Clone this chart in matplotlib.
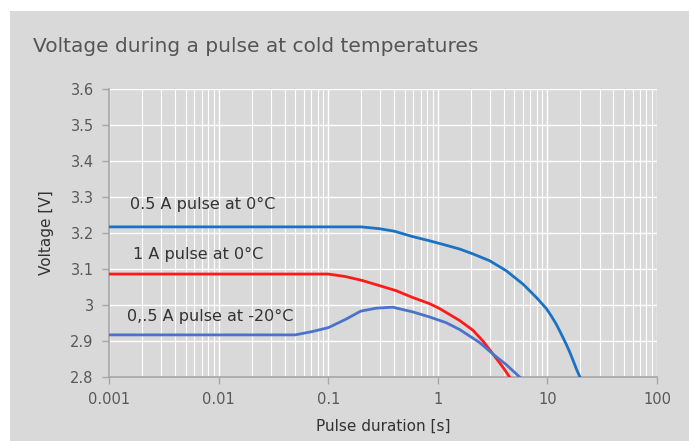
import matplotlib
matplotlib.use("Agg")
import matplotlib.pyplot as plt
from matplotlib.patches import Rectangle
from matplotlib.ticker import LogLocator, FixedLocator, NullFormatter, FixedFormatter

plt.rcParams['font.family'] = ['DejaVu Sans']

# Data
t_05_0 = [0.001, 0.2, 0.293, 0.4, 0.59, 0.85, 1.19, 1.6, 2.09, 2.97, 4.22, 5.99, 7.93, 9.79, 10.88, 12.08, 13.4, 14.9, 16.0, 17.2, 18.4, 19.8]
v_05_0 = [3.217, 3.217, 3.212, 3.205, 3.190, 3.178, 3.166, 3.155, 3.142, 3.123, 3.095, 3.058, 3.021, 2.990, 2.969, 2.946, 2.919, 2.890, 2.869, 2.845, 2.822, 2.800]

t_1_0 = [0.001, 0.1, 0.144, 0.205, 0.292, 0.415, 0.588, 0.837, 1.04, 1.58, 2.09, 2.58, 3.18, 3.93, 4.52]
v_1_0 = [3.086, 3.086, 3.079, 3.068, 3.054, 3.040, 3.021, 3.004, 2.990, 2.957, 2.930, 2.900, 2.864, 2.827, 2.800]

t_05_m20 = [0.001, 0.05, 0.071, 0.1, 0.144, 0.198, 0.272, 0.386, 0.588, 0.837, 1.19, 1.58, 2.4, 3.18, 4.22, 5.58]
v_05_m20 = [2.917, 2.917, 2.926, 2.937, 2.960, 2.983, 2.991, 2.994, 2.981, 2.967, 2.951, 2.932, 2.896, 2.864, 2.834, 2.800]

x_ticks = [0.001, 0.01, 0.1, 1, 10, 100]
x_tick_labels = ['0.001', '0.01', '0.1', '1', '10', '100']
y_ticks = [2.8, 2.9, 3.0, 3.1, 3.2, 3.3, 3.4, 3.5, 3.6]
y_tick_labels = ['2.8', '2.9', '3', '3.1', '3.2', '3.3', '3.4', '3.5', '3.6']

series_labels = ['0.5 A pulse at 0°C', '1 A pulse at 0°C', '0,.5 A pulse at -20°C']

bg = '#d9d9d9'
txt = '#595959'
spine_c = '#a6a6a6'

fig = plt.figure(figsize=(6.89, 4.41), dpi=100, facecolor='white')
fig.patches.append(Rectangle((10/689, 0), 1, 1 - 11/441, transform=fig.transFigure,
                             facecolor=bg, edgecolor='none', zorder=-10))

ax = fig.add_axes([109/689, 1 - 377/441, (657 - 109)/689, (377 - 89)/441])
ax.set_zorder(1)
ax.set_facecolor(bg)
ax.set_xscale('log')
ax.set_xlim(0.001, 100)
ax.set_ylim(2.8, 3.6)

ax.xaxis.set_major_locator(FixedLocator(x_ticks))
ax.xaxis.set_major_formatter(FixedFormatter(x_tick_labels))
ax.xaxis.set_minor_locator(LogLocator(base=10, subs=range(2, 10), numticks=20))
ax.xaxis.set_minor_formatter(NullFormatter())
ax.yaxis.set_major_locator(FixedLocator(y_ticks))
ax.yaxis.set_major_formatter(FixedFormatter(y_tick_labels))

ax.grid(True, which='major', color='white', linewidth=1.0)
ax.grid(True, which='minor', axis='x', color='white', linewidth=0.8)
ax.set_axisbelow(True)

for s in ['top', 'right']:
    ax.spines[s].set_visible(False)
for s in ['left', 'bottom']:
    ax.spines[s].set_color(spine_c)
    ax.spines[s].set_linewidth(1.2)

ax.tick_params(axis='both', which='major', direction='out', length=5, width=1,
               color=spine_c, labelcolor=txt, labelsize=10.5, pad=6)
ax.tick_params(axis='x', which='minor', length=0)

ax.plot(t_05_0, v_05_0, color='#1a72c4', linewidth=2, zorder=3)
ax.plot(t_1_0, v_1_0, color='#ff1a1a', linewidth=2, zorder=3)
ax.plot(t_05_m20, v_05_m20, color='#4a73c9', linewidth=2, zorder=4)

ax.text(0.00155, 3.280, series_labels[0], color='#333333', fontsize=11.5, va='center', ha='left')
ax.text(0.00165, 3.139, series_labels[1], color='#333333', fontsize=11.5, va='center', ha='left')
ax.text(0.00145, 2.969, series_labels[2], color='#333333', fontsize=11.5, va='center', ha='left')

ax.set_xlabel('Pulse duration [s]', color='#333333', fontsize=11, labelpad=8)
ax.set_ylabel('Voltage [V]', color='#333333', fontsize=11, labelpad=12)

fig.text(33/689, 1 - 47/441, 'Voltage during a pulse at cold temperatures',
         color='#555555', fontsize=14.5, va='center', ha='left')

fig.savefig('out.png', dpi=100, facecolor='white')
